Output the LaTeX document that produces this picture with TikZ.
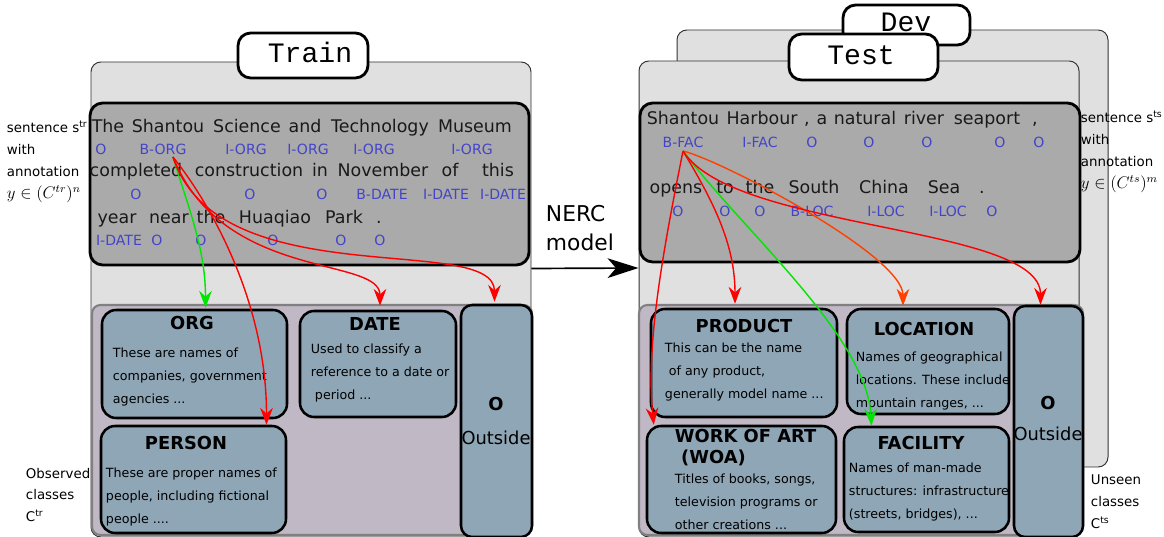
\documentclass[tikz,border=0pt]{standalone}
\usepackage{fontspec}
\setmainfont{DejaVu Sans}
\setmonofont{Liberation Mono}
\usetikzlibrary{fit,calc,arrows.meta}

\definecolor{panelgray}{RGB}{224,224,224}
\definecolor{sentgray}{RGB}{170,170,170}
\definecolor{classbg}{RGB}{192,184,197}
\definecolor{classfill}{RGB}{143,166,182}
\definecolor{tagblue}{RGB}{68,68,200}
\definecolor{arrowred}{RGB}{255,0,0}
\definecolor{arroworange}{RGB}{255,64,0}
\definecolor{arrowgreen}{RGB}{0,230,0}

\tikzset{
	panel/.style={draw=black!80, fill=panelgray, rounded corners=7pt, line width=0.7pt, inner sep=0pt},
	tab/.style={draw, fill=white, rounded corners=9pt, line width=2pt, inner sep=0pt},
	tabtext/.style={anchor=base, font=\ttfamily\fontsize{20}{20}\selectfont},
	sentbox/.style={draw, fill=sentgray, rounded corners=9pt, line width=2pt, inner sep=0pt},
	classarea/.style={draw=black!50, fill=classbg, rounded corners=6pt, line width=1.5pt, inner sep=0pt},
	cbox/.style={draw, fill=classfill, rounded corners=10pt, line width=1.8pt, inner sep=0pt},
	word/.style={anchor=base, font=\fontsize{12.4}{14}\selectfont, text=black!90},
	tag/.style={anchor=base, font=\fontsize{10}{12}\selectfont, text=tagblue},
	ctitle/.style={font=\bfseries\fontsize{12.7}{15}\selectfont},
	cdesc/.style={anchor=west, align=left, font=\fontsize{9}{16.5}\selectfont},
	side/.style={anchor=west, align=left, font=\fontsize{9.5}{15.6}\selectfont},
	link/.style={line width=1pt, -{Stealth[length=12pt,width=9pt,inset=4pt]}},
}

\begin{document}
\begin{tikzpicture}[x=0.025cm, y=-0.025cm]
	\useasboundingbox (0,0) rectangle (1164,537);

	% training side
	\node[panel, fit={(91,62) (531,537)}] (trainpanel) {};
	\node[tab, fit={(238,33) (368,78)}] (traintab) {};
	\node[tabtext] (traintext) at (310,63) {Train};
	\node[sentbox, fit={(90,103) (529,265)}] (trainsent) {};
	\node[classarea, fit={(92,305) (532,535)}] (trainclasses) {};

	\foreach \w/\x [count=\i] in {The/108,Shantou/168,Science/247,and/305,Technology/380,Museum/475}
		\node[word] (lsa\i) at (\x,133) {\w};
	\foreach \w/\x [count=\i] in {O/101,B-ORG/163,I-ORG/246,I-ORG/308,I-ORG/374,I-ORG/472}
		\node[tag] (lta\i) at (\x,155) {\w};
	\foreach \w/\x [count=\i] in {completed/136,construction/249,in/320,November/383,of/450,this/498}
		\node[word] (lsb\i) at (\x,177) {\w};
	\foreach \w/\x [count=\i] in {O/136,O/250,O/322,B-DATE/382,I-DATE/446,I-DATE/503}
		\node[tag] (ltb\i) at (\x,200) {\w};
	\foreach \w/\x [count=\i] in {year/117,near/169,the/211,Huaqiao/275,Park/344,./379}
		\node[word] (lsc\i) at (\x,224) {\w};
	\foreach \w/\x [count=\i] in {I-DATE/119,O/157,O/201,O/273,O/341,O/380}
		\node[tag] (ltc\i) at (\x,246) {\w};

	\node[cbox, fit={(102,310) (287,418)}] (org) {};
	\node[ctitle] (orgtitle) at (192,323) {ORG};
	\node[cdesc] (orgdesc) at (108,377) {These are names of\\companies, government\\agencies ...};
	\node[cbox, fit={(300,311) (456,417)}] (date) {};
	\node[ctitle] (datetitle) at (375,324) {DATE};
	\node[cdesc] (datedesc) at (306,373) {Used to classify a\\reference to a date or\\~period ...};
	\node[cbox, fit={(101,426) (286,533)}] (person) {};
	\node[ctitle] (persontitle) at (186,443) {PERSON};
	\node[cdesc] (persondesc) at (101,497) {These are proper names of\\people, including fictional\\people ....};
	\node[cbox, rounded corners=8pt, fit={(461,305) (532,537)}] (lout) {};
	\node[ctitle] (louttitle) at (496,404) {O};
	\node[font=\fontsize{12.7}{15}\selectfont] (loutdesc) at (496,438) {Outside};

	\node[side] (lsentlabel) at (2,162) {sentence s\textsuperscript{tr}\\with\\annotation\\{\fontsize{12}{14}\selectfont$y\in(C^{tr})^n$}};
	\node[side] (lclasslabel) at (21,495) {Observed\\classes\\C\textsuperscript{tr}};

	% test and dev side
	\node[panel, fit={(677,30) (1108,467)}] (devpanel) {};
	\node[tab, fit={(843,5) (970,45)}] (devtab) {};
	\node[tabtext] (devtext) at (906,32) {Dev};
	\node[panel, fit={(639,61) (1079,537)}] (testpanel) {};
	\node[tab, fit={(789,34) (938,80)}] (testtab) {};
	\node[tabtext] (testtext) at (861,65) {Test};
	\node[sentbox, fit={(640,103) (1080,262)}] (testsent) {};
	\node[classarea, fit={(639,305) (1083,535)}] (testclasses) {};

	\foreach \w/\x [count=\i] in {Shantou/683,Harbour/762,{,}/807,a/822,natural/865,river/924,seaport/987,{,}/1035}
		\node[word] (rsa\i) at (\x,125) {\w};
	\foreach \w/\x [count=\i] in {B-FAC/683,I-FAC/760,O/812,O/869,O/927,O/1000,O/1039}
		\node[tag] (rta\i) at (\x,148) {\w};
	\foreach \w/\x [count=\i] in {opens/676,to/725,the/760,South/814,China/884,Sea/944,./982}
		\node[word] (rsb\i) at (\x,194) {\w};
	\foreach \w/\x [count=\i] in {O/678,O/725,O/760,B-LOC/812,I-LOC/886,I-LOC/948,O/992}
		\node[tag] (rtb\i) at (\x,217) {\w};

	\node[cbox, fit={(651,309) (837,417)}] (product) {};
	\node[ctitle] (producttitle) at (744,326) {PRODUCT};
	\node[cdesc] (productdesc) at (660,372) {This can be the name\\~of any product,\\generally model name ...};
	\node[cbox, fit={(847,309) (1009,414)}] (location) {};
	\node[ctitle] (locationtitle) at (924,329) {LOCATION};
	\node[cdesc] (locationdesc) at (851,381) {Names of geographical\\locations. These include\\mountain ranges, ...};
	\node[cbox, fit={(647,426) (836,533)}] (woa) {};
	\node[ctitle, anchor=west, align=left, font=\bfseries\fontsize{12.7}{15}\selectfont] (woatitle) at (670,448) {WORK OF ART\\~(WOA)};
	\node[cdesc] (woadesc) at (670,502) {Titles of books, songs,\\television programs or\\other creations ...};
	\node[cbox, fit={(844,427) (1009,532)}] (facility) {};
	\node[ctitle] (facilitytitle) at (921,443) {FACILITY};
	\node[cdesc] (facilitydesc) at (844,492) {Names of man-made\\structures: infrastructure\\(streets, bridges), ...};
	\node[cbox, rounded corners=8pt, fit={(1014,306) (1083,537)}] (rout) {};
	\node[ctitle] (routtitle) at (1048,403) {O};
	\node[font=\fontsize{12.7}{15}\selectfont] (routdesc) at (1048,434) {Outside};

	\node[side] (rsentlabel) at (1076,152) {sentence s\textsuperscript{ts}\\with\\annotation\\{\fontsize{12}{14}\selectfont$y\in(C^{ts})^m$}};
	\node[side] (rclasslabel) at (1086,502) {Unseen\\classes\\C\textsuperscript{ts}};

	% model arrow
	\node[anchor=west, align=left, font=\fontsize{15.5}{20.6}\selectfont] (nerc) at (541,228) {NERC\\model};
	\draw[line width=1.2pt, -{Stealth[length=22pt,width=14pt,inset=6pt]}] ($(trainpanel.east)+(0,-31)$) -- ($(testpanel.west)+(0,-31)$);

	% tag to class links
	\draw[link, arrowgreen] ($(lta2.base)+(10,2)$) .. controls +(15,50) and +(0,-60) .. ($(org.north)+(11,-1)$);
	\draw[link, arrowred] ($(lta2.base)+(10,2)$) .. controls +(40,50) and +(0,-120) .. ($(person.north)+(73,0)$);
	\draw[link, arrowred] ($(lta2.base)+(10,2)$) .. controls +(50,125) and +(0,-50) .. ($(date.north)+(2,-4)$);
	\draw[link, arrowred] ($(lta2.base)+(10,2)$) .. controls +(45,140) and +(0,-70) .. ($(lout.north)+(-2,-2)$);

	\draw[link, arrowred] ($(rta1.base)+(0,3)$) .. controls +(-20,100) and +(-8,-80) .. ($(woa.north west)+(8,0)$);
	\draw[link, arrowred] ($(rta1.base)+(0,3)$) .. controls +(30,50) and +(0,-60) .. ($(product.north)+(-9,-4)$);
	\draw[link, arrowgreen] ($(rta1.base)+(0,3)$) .. controls +(60,80) and +(-5,-90) .. ($(facility.north)+(-55,0)$);
	\draw[link, arroworange] ($(rta1.base)+(0,3)$) .. controls +(40,10) and +(0,-50) .. ($(location.north)+(-25,-2)$);
	\draw[link, arrowred] ($(rta1.base)+(0,3)$) .. controls +(50,80) and +(0,-80) .. ($(rout.north)+(-8,0)$);
\end{tikzpicture}
\end{document}
